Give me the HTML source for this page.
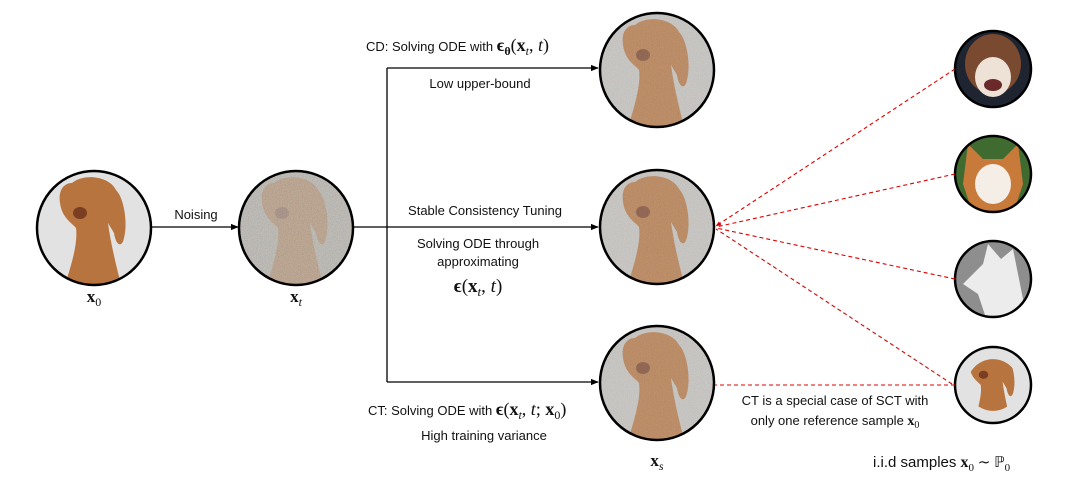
<!DOCTYPE html>
<html><head><meta charset="utf-8"><style>
body{margin:0;background:#fff}
svg{display:block}
text{font-family:"Liberation Sans",sans-serif;fill:#111}
.m{font-family:"Liberation Serif",serif}
</style></head><body>
<svg width="1089" height="478" viewBox="0 0 1089 478">
<defs>
<marker id="ah" viewBox="0 0 10 10" refX="9" refY="5" markerWidth="6" markerHeight="6" orient="auto"><path d="M0,1 L10,5 L0,9z" fill="#000"/></marker>
<marker id="ahr" viewBox="0 0 10 10" refX="9" refY="5" markerWidth="5" markerHeight="5" orient="auto"><path d="M0,1 L10,5 L0,9z" fill="#c00"/></marker>
<filter id="noise" x="-10%" y="-10%" width="120%" height="120%"><feTurbulence type="fractalNoise" baseFrequency="1.2" numOctaves="1" seed="3"/><feColorMatrix type="saturate" values="0.4"/><feComponentTransfer><feFuncA type="linear" slope="0" intercept="0.35"/></feComponentTransfer><feComposite in2="SourceGraphic" operator="in"/></filter>
<g id="dog">
<path d="M-22,-45 C-10,-55 15,-52 22,-38 C30,-30 34,-5 30,10 C28,20 22,18 20,5 L14,-5 C16,10 20,30 28,60 L-30,60 C-22,35 -16,15 -18,0 C-22,-5 -32,-10 -34,-25 C-36,-38 -30,-45 -22,-45z" fill="#b8743e"/>
<ellipse cx="-14" cy="-15" rx="7" ry="6" fill="#7a3e22"/>
</g>
<clipPath id="cb"><circle r="57"/></clipPath>
<clipPath id="cs"><circle r="38"/></clipPath>
</defs>

<g transform="translate(94,228)">
<circle r="57" fill="#e2e2e2"/><g clip-path="url(#cb)"><use href="#dog"/></g>
<circle r="57" fill="none" stroke="#000" stroke-width="2.5"/></g>

<g transform="translate(296,228)">
<circle r="57" fill="#b9b6ae"/><g clip-path="url(#cb)" opacity="0.45"><use href="#dog"/></g>
<circle r="57" fill="#fff" filter="url(#noise)"/>
<circle r="57" fill="none" stroke="#000" stroke-width="2.5"/></g>
<g transform="translate(657,70)">
<circle r="57" fill="#c8c6c2"/><g clip-path="url(#cb)" opacity="0.85"><use href="#dog"/></g>
<circle r="57" fill="#fff" filter="url(#noise)" opacity="0.6"/>
<circle r="57" fill="none" stroke="#000" stroke-width="2.5"/></g>
<g transform="translate(657,227)">
<circle r="57" fill="#c8c6c2"/><g clip-path="url(#cb)" opacity="0.85"><use href="#dog"/></g>
<circle r="57" fill="#fff" filter="url(#noise)" opacity="0.6"/>
<circle r="57" fill="none" stroke="#000" stroke-width="2.5"/></g>
<g transform="translate(657,383)">
<circle r="57" fill="#c8c6c2"/><g clip-path="url(#cb)" opacity="0.85"><use href="#dog"/></g>
<circle r="57" fill="#fff" filter="url(#noise)" opacity="0.6"/>
<circle r="57" fill="none" stroke="#000" stroke-width="2.5"/></g>

<g transform="translate(993,69)">
<circle r="38" fill="#1e2430"/><g clip-path="url(#cs)"><ellipse cx="0" cy="-5" rx="28" ry="30" fill="#7a4a30"/><ellipse cx="0" cy="8" rx="18" ry="20" fill="#eee2d6"/><ellipse cx="0" cy="16" rx="9" ry="6" fill="#6a2a2a"/></g>
<circle r="38" fill="none" stroke="#000" stroke-width="2.5"/></g>
<g transform="translate(993,174)">
<circle r="38" fill="#3f6a30"/><g clip-path="url(#cs)"><path d="M-25,-30 L-10,-15 L10,-15 L25,-30 L30,10 L20,40 L-20,40 L-30,10z" fill="#c87a3a"/><ellipse cx="0" cy="10" rx="18" ry="20" fill="#f4eee6"/></g>
<circle r="38" fill="none" stroke="#000" stroke-width="2.5"/></g>
<g transform="translate(993,279)">
<circle r="38" fill="#8e8e8e"/><g clip-path="url(#cs)"><path d="M-30,5 L-10,-15 L-5,-35 L8,-20 L20,-30 L30,20 L25,45 L-5,45 L-15,15z" fill="#ececec"/></g>
<circle r="38" fill="none" stroke="#000" stroke-width="2.5"/></g>
<g transform="translate(993,385)">
<circle r="38" fill="#e2e2e2"/><g clip-path="url(#cs)" transform="scale(0.68)"><use href="#dog"/></g>
<circle r="38" fill="none" stroke="#000" stroke-width="2.5"/></g>

<g stroke="#000" stroke-width="1.3" fill="none">
<line x1="151" y1="227" x2="238" y2="227" marker-end="url(#ah)"/>
<line x1="353" y1="227" x2="598" y2="227" marker-end="url(#ah)"/>
<line x1="387" y1="68" x2="387" y2="382"/>
<line x1="387" y1="68" x2="598" y2="68" marker-end="url(#ah)"/>
<line x1="387" y1="382" x2="598" y2="382" marker-end="url(#ah)"/>
</g>

<g stroke="#d00" stroke-width="1.1" fill="none" stroke-dasharray="4,3">
<line x1="955" y1="69" x2="716" y2="226" marker-end="url(#ahr)"/>
<line x1="955" y1="174" x2="716" y2="227"/>
<line x1="955" y1="279" x2="716" y2="228"/>
<line x1="952" y1="384" x2="716" y2="229"/>
<line x1="955" y1="385" x2="715" y2="385"/>
</g>

<text x="196" y="219" font-size="13" text-anchor="middle">Noising</text>
<text x="94" y="302" font-size="17" class="m" text-anchor="middle" font-weight="bold">x<tspan font-size="12" dy="4" font-weight="normal">0</tspan></text>
<text x="296" y="302" font-size="17" class="m" text-anchor="middle" font-weight="bold">x<tspan font-size="12" dy="4" font-weight="normal" font-style="italic">t</tspan></text>
<text x="657" y="466" font-size="17" class="m" text-anchor="middle" font-weight="bold">x<tspan font-size="12" dy="4" font-weight="normal" font-style="italic">s</tspan></text>

<text x="366" y="51" font-size="13">CD: Solving ODE with <tspan class="m" font-size="18" font-weight="bold">ϵ<tspan font-size="12" dy="4">θ</tspan><tspan dy="-4" font-weight="normal">(</tspan>x<tspan font-size="12" dy="4" font-weight="normal" font-style="italic">t</tspan><tspan dy="-4" font-weight="normal">, </tspan><tspan font-weight="normal" font-style="italic">t</tspan><tspan font-weight="normal">)</tspan></tspan></text>
<text x="480" y="88" font-size="13" text-anchor="middle">Low upper-bound</text>
<text x="485" y="215" font-size="13" text-anchor="middle">Stable Consistency Tuning</text>
<text x="478" y="248" font-size="13" text-anchor="middle">Solving ODE through</text>
<text x="478" y="266" font-size="13" text-anchor="middle">approximating</text>
<text x="478" y="292" font-size="19" class="m" text-anchor="middle"><tspan font-weight="bold">ϵ</tspan>(<tspan font-weight="bold">x</tspan><tspan font-size="13" dy="4" font-style="italic">t</tspan><tspan dy="-4">, </tspan><tspan font-style="italic">t</tspan>)</text>
<text x="368" y="415" font-size="13">CT: Solving ODE with <tspan class="m" font-size="18"><tspan font-weight="bold">ϵ</tspan>(<tspan font-weight="bold">x</tspan><tspan font-size="12" dy="4" font-style="italic">t</tspan><tspan dy="-4">, </tspan><tspan font-style="italic">t</tspan>; <tspan font-weight="bold">x</tspan><tspan font-size="12" dy="4">0</tspan><tspan dy="-4">)</tspan></tspan></text>
<text x="484" y="440" font-size="13" text-anchor="middle">High training variance</text>
<text x="835" y="405" font-size="13" text-anchor="middle">CT is a special case of SCT with</text>
<text x="835" y="425" font-size="13" text-anchor="middle">only one reference sample <tspan class="m" font-weight="bold" font-size="14">x</tspan><tspan class="m" font-size="10" dy="3">0</tspan></text>
<text x="873" y="467" font-size="15">i.i.d samples <tspan class="m" font-weight="bold" font-size="16">x</tspan><tspan class="m" font-size="11" dy="4">0</tspan><tspan dy="-4" class="m"> ∼  ℙ</tspan><tspan class="m" font-size="11" dy="4">0</tspan></text>
</svg>
</body></html>
